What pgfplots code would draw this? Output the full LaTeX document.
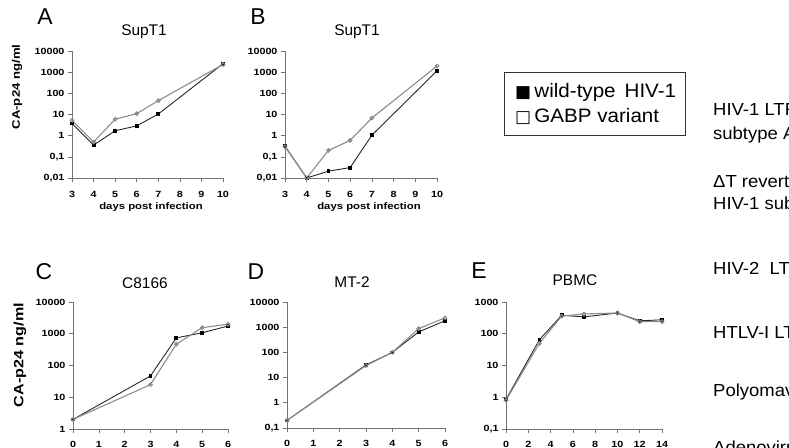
\documentclass[border=0pt]{standalone}
\usepackage{pgfplots}
\pgfplotsset{compat=1.18}
\usepackage{fontspec}
\setmainfont{Liberation Sans}
\newfontfamily\tickf[FakeStretch=1.2]{Liberation Sans}
\newfontfamily\rightf[FakeStretch=1.06]{Liberation Sans}
\newfontfamily\symf{DejaVu Sans}
\definecolor{axc}{gray}{0.45}
\definecolor{gab}{gray}{0.55}
\pgfplotsset{
 myaxis/.style={scale only axis, axis x line*=bottom, axis y line*=left,
   axis line style={axc, line width=0.8bp, -}, yminorticks=false,
   tick align=outside, major tick length=4bp, tick style={axc, line width=0.6bp},
   ticklabel style={font=\tickf\bfseries\fontsize{9}{10}\selectfont, text=black},
   /pgf/number format/assume math mode=true,
   clip=false},
 wtline/.style={black!85, line width=0.9bp, mark=square*, mark size=1.4bp, mark options={fill=black, draw=black}},
 gpline/.style={gab, line width=1.1bp, mark=o, mark size=1.8bp, mark options={fill=white, draw=gab}},
}
\begin{document}
\begin{tikzpicture}
\path[use as bounding box] (0bp,0bp) rectangle (789bp,448bp);
% Panel A
\begin{axis}[ymode=log, myaxis, at={(72bp,270bp)}, anchor=south west, width=151bp, height=127bp,
  xticklabel style={yshift=-6bp},
  xmin=3, xmax=10, xtick={3,...,10}, ymin=0.01, ymax=10000,
  ytick={0.01,0.1,1,10,100,1000,10000}, yticklabels={{0,01},{0,1},1,10,100,1000,10000}]
\addplot[wtline] coordinates {(3,3.8)(4,0.36)(5,1.7)(6,2.9)(7,10.5)(10,2500)};
\addplot[gpline] coordinates {(3,5.3)(4,0.5)(5,6)(6,11)(7,45)(10,2300)};
\end{axis}
% Panel B
\begin{axis}[ymode=log, myaxis, at={(285bp,270bp)}, anchor=south west, width=152bp, height=127bp,
  xticklabel style={yshift=-6bp},
  xmin=3, xmax=10, xtick={3,...,10}, ymin=0.01, ymax=10000,
  ytick={0.01,0.1,1,10,100,1000,10000}, yticklabels={{0,01},{0,1},1,10,100,1000,10000}]
\addplot[wtline] coordinates {(3,0.32)(4,0.01)(5,0.021)(6,0.031)(7,1.05)(10,1150)};
\addplot[gpline] coordinates {(3,0.3)(4,0.01)(5,0.2)(6,0.6)(7,6.8)(10,1950)};
\end{axis}
% Panel C
\begin{axis}[ymode=log, myaxis, at={(73bp,19bp)}, anchor=south west, width=155bp, height=127bp,
  xticklabel style={yshift=-5bp},
  xmin=0, xmax=6, xtick={0,...,6}, ymin=1, ymax=10000,
  ytick={1,10,100,1000,10000}, yticklabels={1,10,100,1000,10000}]
\addplot[wtline] coordinates {(0,2)(3,47)(4,740)(5,1070)(6,1750)};
\addplot[gpline] coordinates {(0,2)(3,25)(4,470)(5,1550)(6,2000)};
\end{axis}
% Panel D
\begin{axis}[ymode=log, myaxis, at={(287bp,20bp)}, anchor=south west, width=158bp, height=126bp,
  xticklabel style={yshift=-5bp},
  xmin=0, xmax=6, xtick={0,...,6}, ymin=0.1, ymax=10000,
  ytick={0.1,1,10,100,1000,10000}, yticklabels={{0,1},1,10,100,1000,10000}]
\addplot[wtline] coordinates {(0,0.2)(3,32)(4,100)(5,650)(6,1800)};
\addplot[gpline] coordinates {(0,0.2)(3,30)(4,100)(5,880)(6,2350)};
\end{axis}
% Panel E
\begin{axis}[ymode=log, myaxis, at={(506bp,19bp)}, anchor=south west, width=156bp, height=127bp,
  xticklabel style={yshift=-5bp},
  xmin=0, xmax=14, xtick={0,2,...,14}, ymin=0.1, ymax=1000,
  ytick={0.1,1,10,100,1000}, yticklabels={{0,1},1,10,100,1000}]
\addplot[wtline] coordinates {(0,0.85)(3,65)(5,380)(7,340)(10,450)(12,255)(14,275)};
\addplot[gpline] coordinates {(0,0.8)(3,50)(5,360)(7,420)(10,450)(12,240)(14,240)};
\end{axis}
\begin{scope}[x=1bp,y=1bp]
% panel letters
\begin{scope}[every node/.style={font=\fontsize{23}{24}\selectfont, inner sep=0pt}]
\node at (45,431) {A};
\node at (258,431) {B};
\node at (44,176) {C};
\node at (256,176) {D};
\node at (479,177) {E};
\end{scope}
% titles
\begin{scope}[every node/.style={font=\fontsize{15.5}{17}\selectfont, inner sep=0pt}]
\node at (144,416) {SupT1};
\node at (357,416) {SupT1};
\node at (145,165) {C8166};
\node at (352,166) {MT-2};
\node at (575,168) {PBMC};
\end{scope}
% axis labels
\node[rotate=90, font=\tickf\bfseries\fontsize{11}{12}\selectfont, inner sep=0pt] at (17,361) {CA-p24 ng/ml};
\node[rotate=90, font=\tickf\bfseries\fontsize{13.5}{14}\selectfont, inner sep=0pt] at (20,93) {CA-p24 ng/ml};
\node[font=\tickf\bfseries\fontsize{9.5}{10}\selectfont, inner sep=0pt] at (151,241) {days post infection};
\node[font=\tickf\bfseries\fontsize{9.5}{10}\selectfont, inner sep=0pt] at (369,241) {days post infection};
% legend
\draw[black!80, line width=0.8bp] (504,376) rectangle (685,313);
\node[anchor=west, inner sep=0pt, font=\rightf\fontsize{19.5}{20}\selectfont] at (515,356) {{\symf\fontsize{17}{17}\selectfont ■}\,wild-type\, HIV-1};
\node[anchor=west, inner sep=0pt, font=\rightf\fontsize{19.5}{20}\selectfont] at (515,331) {{\symf\fontsize{17}{17}\selectfont □}\,GABP variant};
% right texts
\begin{scope}[every node/.style={anchor=west, inner sep=0pt, font=\rightf\fontsize{17.5}{18}\selectfont}]
\node at (713,338) {HIV-1 LTR};
\node at (713,313) {subtype A};
\node at (713,266) {ΔT revertant};
\node at (713,243) {HIV-1 subtype A};
\node at (713,180) {HIV-2\ \ LTR};
\node at (713,115) {HTLV-I LTR};
\node at (713,56) {Polyomavirus};
\node at (713,1) {Adenovirus};
\end{scope}
\end{scope}
\end{tikzpicture}
\end{document}
